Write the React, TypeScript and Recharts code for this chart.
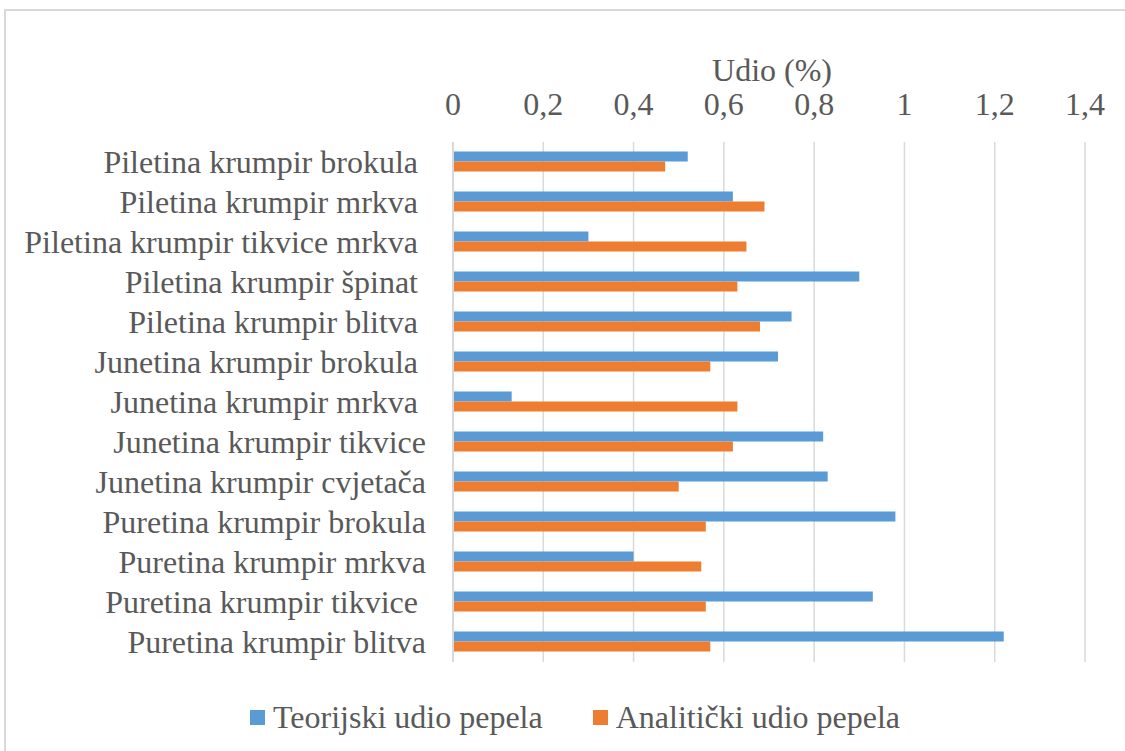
import {
  BarChart,
  Bar,
  XAxis,
  YAxis,
  CartesianGrid,
  Legend,
} from "recharts";

// category labels as in the source sheet (some carry a trailing space)
const categories = [
  "Piletina krumpir brokula ",
  "Piletina krumpir mrkva ",
  "Piletina krumpir tikvice mrkva ",
  "Piletina krumpir špinat ",
  "Piletina krumpir blitva ",
  "Junetina krumpir brokula ",
  "Junetina krumpir mrkva ",
  "Junetina krumpir tikvice",
  "Junetina krumpir cvjetača",
  "Puretina krumpir brokula",
  "Puretina krumpir mrkva",
  "Puretina krumpir tikvice ",
  "Puretina krumpir blitva",
];

const teorijski = [0.52, 0.62, 0.3, 0.9, 0.75, 0.72, 0.13, 0.82, 0.83, 0.98, 0.4, 0.93, 1.22];
const analiticki = [0.47, 0.69, 0.65, 0.63, 0.68, 0.57, 0.63, 0.62, 0.5, 0.56, 0.55, 0.56, 0.57];

const xTicks = [0, 0.2, 0.4, 0.6, 0.8, 1, 1.2, 1.4];

const seriesNames = ["Teorijski udio pepela", "Analitički udio pepela"];

const data = categories.map((name, i) => ({
  name,
  teorijski: teorijski[i],
  analiticki: analiticki[i],
}));

const FONT = '"Liberation Serif", "Times New Roman", serif';
const FS = 32;
const TEXT = "#595959";
const BLUE = "#5B9BD5";
const ORANGE = "#ED7D31";
const GRID = "#D9D9D9";

function CategoryTick(props: any) {
  const { x, y, payload } = props;
  return (
    <text
      x={x}
      y={y}
      dy="0.355em"
      textAnchor="end"
      fill={TEXT}
      fontSize={FS}
      fontFamily={FONT}
      style={{ whiteSpace: "pre" }}
    >
      {payload.value}
    </text>
  );
}

function LegendContent() {
  const item = (color: string, label: string, ml: number) => (
    <div style={{ display: "flex", alignItems: "center", marginLeft: ml }}>
      <div style={{ width: 15, height: 15, background: color, marginRight: 8 }} />
      <span>{label}</span>
    </div>
  );
  return (
    <div
      style={{
        display: "flex",
        alignItems: "center",
        height: 30,
        marginTop: 40,
        paddingLeft: 250,
        fontFamily: FONT,
        fontSize: FS,
        lineHeight: "30px",
        color: TEXT,
        whiteSpace: "nowrap",
      }}
    >
      {item(BLUE, seriesNames[0], 0)}
      {item(ORANGE, seriesNames[1], 50)}
    </div>
  );
}

export default function App() {
  return (
    <div
      style={{
        position: "fixed",
        left: 0,
        top: 0,
        width: 1125,
        height: 751,
        overflow: "hidden",
        background: "#fff",
      }}
    >
      <div
        style={{
          position: "absolute",
          left: 4,
          top: 9,
          width: 1200,
          height: 800,
          border: `2px solid ${GRID}`,
        }}
      />
      <BarChart
        width={1125}
        height={751}
        data={data}
        layout="vertical"
        margin={{ top: 58, right: 40, left: 0, bottom: 14 }}
        barCategoryGap="24%"
        barGap={0}
      >
        <CartesianGrid horizontal={false} stroke={GRID} strokeWidth={1.5} />
        <XAxis
          type="number"
          orientation="top"
          domain={[0, 1.4]}
          ticks={xTicks}
          height={84}
          axisLine={false}
          tickLine={false}
          tickSize={6}
          tickMargin={21}
          tickFormatter={(v: number) => String(v).replace(".", ",")}
          tick={{ fontSize: FS, fill: TEXT, fontFamily: FONT }}
          label={{
            value: "Udio (%)",
            position: "insideTop",
            offset: 0,
            dx: 3,
            fontSize: FS,
            fill: TEXT,
            fontFamily: FONT,
          }}
        />
        <YAxis
          type="category"
          dataKey="name"
          width={453}
          interval={0}
          axisLine={{ stroke: GRID, strokeWidth: 2 }}
          tickLine={false}
          tickSize={6}
          tickMargin={21}
          tick={<CategoryTick />}
        />
        <Legend verticalAlign="bottom" height={75} content={<LegendContent />} wrapperStyle={{ left: 0, width: 1125 }} />
        <Bar dataKey="teorijski" name={seriesNames[0]} fill={BLUE} isAnimationActive={false} />
        <Bar dataKey="analiticki" name={seriesNames[1]} fill={ORANGE} isAnimationActive={false} />
      </BarChart>
    </div>
  );
}
